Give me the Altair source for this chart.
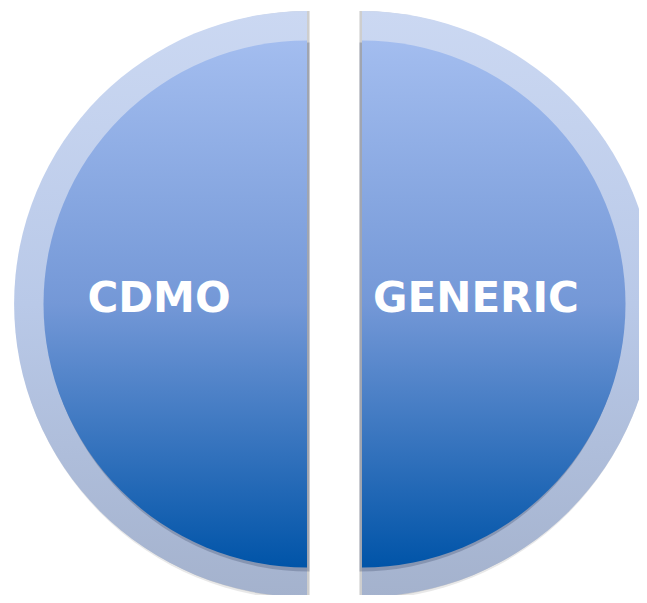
import altair as alt
import pandas as pd

# ---- data ----
segments = ["CDMO", "GENERIC"]
theta_start = [180, 360]   # degrees, clockwise from 12 o'clock
theta_end = [360, 540]

# ---- layout (pixels, chart coordinates) ----
W, H = 631, 587
center_x = {"CDMO": 299, "GENERIC": 354}
center_y = 296
label_x = {"CDMO": 151, "GENERIC": 468}
label_y = 291
R_OUT = 293
R_IN = 263.5

df = pd.DataFrame({"name": segments, "t0": theta_start, "t1": theta_end})
df["cx"] = df["name"].map(center_x)
df["lx"] = df["name"].map(label_x)
df["cy"] = center_y
df["ly"] = label_y
# shadow offsets toward the gap
df["sx"] = df["cx"] + df["name"].map({"CDMO": 2.5, "GENERIC": -2.5})

theta_scale = alt.Scale(domain=[0, 360], range=[0, 6.283185307])

def arc_layer(xfield, yoffset, radius, fill, opacity=1.0):
    return alt.Chart(df).mark_arc(
        radius=radius, fill=fill, opacity=opacity, stroke=None
    ).encode(
        x=alt.X(f"{xfield}:Q", scale=None, axis=None),
        y=alt.Y("cy:Q", scale=None, axis=None),
        yOffset=alt.value(yoffset),
        theta=alt.Theta("t0:Q", scale=theta_scale, stack=None),
        theta2="t1:Q",
    )

outer_grad = alt.Gradient(
    gradient="linear", x1=0, x2=0, y1=0, y2=1,
    stops=[
        alt.GradientStop(color="#cbd8f2", offset=0),
        alt.GradientStop(color="#b9c9e8", offset=0.5),
        alt.GradientStop(color="#a4b2cd", offset=1),
    ],
)
inner_grad = alt.Gradient(
    gradient="linear", x1=0, x2=0, y1=0, y2=1,
    stops=[
        alt.GradientStop(color="#a3bdef", offset=0),
        alt.GradientStop(color="#7498d7", offset=0.5),
        alt.GradientStop(color="#0054a8", offset=1),
    ],
)

shadow1 = arc_layer("sx", 1.5, R_OUT + 1.5, "#808080", 0.18)
shadow2 = arc_layer("sx", 0.5, R_OUT + 0.5, "#808080", 0.25)
outer = arc_layer("cx", 0, R_OUT, outer_grad)
inner_shadow = arc_layer("sx", 3, R_IN + 1, "#4a5a78", 0.35)
inner = arc_layer("cx", 0, R_IN, inner_grad)

labels = alt.Chart(df).mark_text(
    font="DejaVu Sans", fontWeight="bold", fontSize=42, color="white",
    align="center", baseline="middle",
).encode(
    x=alt.X("lx:Q", scale=None, axis=None),
    y=alt.Y("ly:Q", scale=None, axis=None),
    text="name:N",
)

chart = alt.layer(shadow1, shadow2, outer, inner_shadow, inner, labels).properties(
    width=W, height=H, padding=0, autosize=alt.AutoSizeParams(type="none"),
    background="white",
).configure_view(stroke=None)

chart.save("out.html", embed_options={"renderer": "svg", "actions": False})
